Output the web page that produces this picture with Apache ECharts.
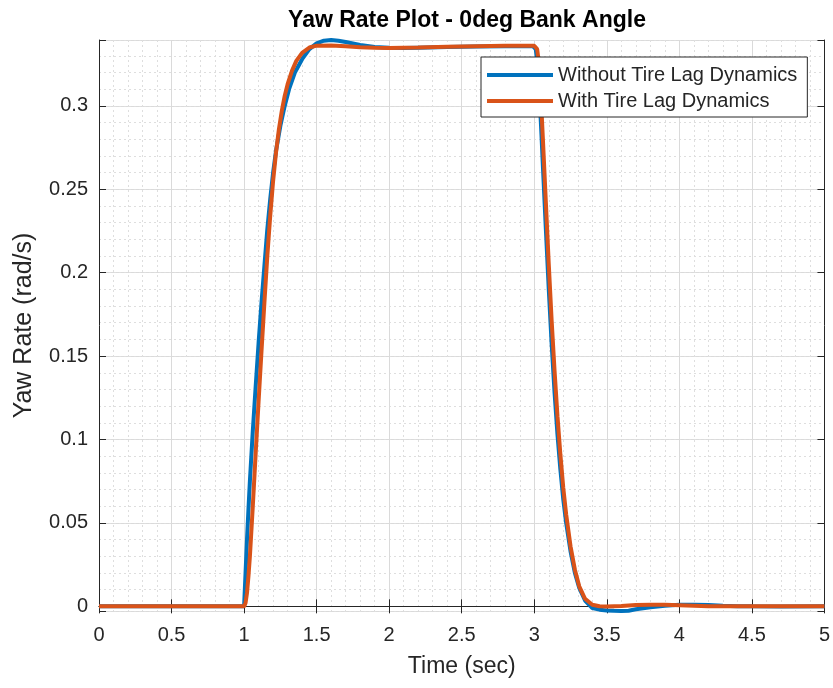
<!DOCTYPE html>
<html>
<head>
<meta charset="utf-8">
<script src="https://cdn.jsdelivr.net/npm/echarts@6/dist/echarts.min.js"></script>
<style>
  html, body { margin: 0; padding: 0; background: #fff; }
  #chart { width: 833px; height: 688px; }
</style>
</head>
<body>
<div id="chart"></div>
<script>
// [time (sec), yaw rate (rad/s)]
const withoutTireLag = [
  [0, 0], [1.0, 0], [1.01, 0.02], [1.02, 0.04], [1.03, 0.058], [1.04, 0.075],
  [1.06, 0.105], [1.08, 0.132], [1.10, 0.158], [1.12, 0.182], [1.14, 0.204],
  [1.16, 0.226], [1.18, 0.244], [1.20, 0.26], [1.22, 0.273], [1.25, 0.288],
  [1.28, 0.3], [1.31, 0.31], [1.35, 0.32], [1.40, 0.328], [1.45, 0.334],
  [1.50, 0.3375], [1.55, 0.3391], [1.60, 0.3395], [1.65, 0.3391], [1.70, 0.3383],
  [1.80, 0.3365], [1.90, 0.3353], [2.0, 0.3348], [2.1, 0.3347], [2.2, 0.3349],
  [2.4, 0.3353], [2.6, 0.3356], [2.8, 0.3358], [2.99, 0.3358], [3.0, 0.3356],
  [3.01, 0.334], [3.02, 0.328], [3.03, 0.316], [3.04, 0.3], [3.05, 0.282],
  [3.06, 0.263], [3.08, 0.226], [3.10, 0.19], [3.12, 0.157], [3.14, 0.128],
  [3.16, 0.103], [3.18, 0.082], [3.20, 0.064], [3.22, 0.05], [3.25, 0.033],
  [3.28, 0.02], [3.31, 0.011], [3.35, 0.0035], [3.40, -0.001], [3.45, -0.002],
  [3.50, -0.0025], [3.55, -0.0027], [3.60, -0.0028], [3.65, -0.0026],
  [3.70, -0.0018], [3.80, -0.0005], [3.90, 0.0004], [4.00, 0.0009], [4.10, 0.001],
  [4.20, 0.0008], [4.30, 0.0004], [4.40, 0.0001], [4.50, 0], [4.70, -0.0001], [5.0, 0]
];
const withTireLag = [
  [0, 0], [1.0, 0], [1.01, 0.002], [1.02, 0.008], [1.03, 0.018], [1.04, 0.03],
  [1.05, 0.045], [1.06, 0.06], [1.08, 0.092], [1.10, 0.123], [1.12, 0.153],
  [1.14, 0.182], [1.16, 0.21], [1.18, 0.234], [1.20, 0.255], [1.22, 0.272],
  [1.24, 0.286], [1.26, 0.297], [1.28, 0.306], [1.30, 0.313], [1.33, 0.321],
  [1.36, 0.327], [1.40, 0.3318], [1.45, 0.335], [1.50, 0.3361], [1.6, 0.3362],
  [1.7, 0.3358], [1.8, 0.3352], [1.9, 0.3348], [2.0, 0.3347], [2.2, 0.335],
  [2.4, 0.3355], [2.6, 0.3358], [2.8, 0.336], [3.0, 0.336], [3.01, 0.3358],
  [3.02, 0.334], [3.03, 0.327], [3.04, 0.314], [3.05, 0.297], [3.06, 0.279],
  [3.08, 0.242], [3.10, 0.205], [3.12, 0.171], [3.14, 0.141], [3.16, 0.114],
  [3.18, 0.091], [3.20, 0.071], [3.22, 0.055], [3.25, 0.036], [3.28, 0.022],
  [3.31, 0.012], [3.35, 0.0045], [3.40, 0.0009], [3.45, 0], [3.5, -0.0001],
  [3.6, 0.0002], [3.7, 0.0008], [3.8, 0.001], [3.9, 0.001], [4.0, 0.0007],
  [4.1, 0.0004], [4.2, 0.0001], [4.3, 0], [5, 0]
];
const seriesNames = ['Without Tire Lag Dynamics', 'With Tire Lag Dynamics'];
const xRange = [0, 5];
const yRange = [-0.0028, 0.3395];
const yMajorStep = 0.05;

const axisColor = '#262626';
const fontFamily = 'Liberation Sans, Arial, sans-serif';

const chart = echarts.init(document.getElementById('chart'));

// y ticks are counted from min, so hide the labels that are not on 0.05 multiples
function yLabel(v) {
  const k = v / yMajorStep;
  if (Math.abs(k - Math.round(k)) > 1e-6) return '';
  return String(Math.round(k * yMajorStep * 100) / 100);
}

const option = {
  backgroundColor: '#fff',
  animation: false,
  title: {
    text: 'Yaw Rate Plot - 0deg Bank Angle',
    left: 462,
    textAlign: 'center',
    top: 4,
    textStyle: { fontFamily: fontFamily, fontSize: 23, fontWeight: 'bold', color: '#000' }
  },
  legend: {
    orient: 'vertical',
    left: 481,
    top: 57,
    icon: 'rect',
    itemWidth: 66,
    itemHeight: 4,
    itemGap: 6,
    padding: [8, 10, 6, 6],
    borderColor: axisColor,
    borderWidth: 1,
    backgroundColor: '#fff',
    textStyle: { fontFamily: fontFamily, fontSize: 20, lineHeight: 20, color: axisColor },
    data: seriesNames
  },
  grid: { left: 99, right: 7, top: 40, bottom: 77 },
  xAxis: [
    {
      type: 'value',
      min: xRange[0],
      max: xRange[1],
      interval: 0.5,
      position: 'bottom',
      axisLine: { show: true, lineStyle: { color: axisColor, width: 1 } },
      axisTick: { show: true, inside: true, length: 7, lineStyle: { color: axisColor } },
      axisLabel: { margin: 14, fontFamily: fontFamily, fontSize: 20, color: axisColor },
      splitLine: { show: true, lineStyle: { color: '#dadada', width: 1 } },
      minorTick: { show: false, splitNumber: 5 },
      minorSplitLine: { show: true, lineStyle: { color: '#dedede', width: 1, type: [2, 3] } },
      name: 'Time (sec)',
      nameLocation: 'middle',
      nameGap: 44,
      nameTextStyle: { fontFamily: fontFamily, fontSize: 23, color: axisColor }
    },
    {
      type: 'value',
      min: xRange[0],
      max: xRange[1],
      interval: 0.5,
      position: 'top',
      axisLine: { show: true, lineStyle: { color: axisColor, width: 1 } },
      axisTick: { show: true, inside: true, length: 7, lineStyle: { color: axisColor } },
      axisLabel: { show: false },
      splitLine: { show: false }
    }
  ],
  yAxis: [
    {
      type: 'value',
      min: yRange[0],
      max: yRange[1],
      splitNumber: 7,
      position: 'left',
      axisLine: { show: true, lineStyle: { color: axisColor, width: 1 } },
      axisTick: { show: true, inside: true, length: 7, lineStyle: { color: axisColor } },
      axisLabel: { margin: 11, fontFamily: fontFamily, fontSize: 20, color: axisColor, formatter: yLabel },
      splitLine: { show: true, lineStyle: { color: '#dadada', width: 1 } },
      name: 'Yaw Rate (rad/s)',
      nameLocation: 'middle',
      nameGap: 62,
      nameTextStyle: { fontFamily: fontFamily, fontSize: 25, color: axisColor }
    },
    {
      // minor grid at 0.01
      type: 'value',
      min: yRange[0],
      max: yRange[1],
      splitNumber: 34,
      position: 'left',
      axisLine: { show: false },
      axisTick: { show: false },
      axisLabel: { show: false },
      splitLine: { show: true, lineStyle: { color: '#dedede', width: 1, type: [2, 3] } }
    },
    {
      type: 'value',
      min: yRange[0],
      max: yRange[1],
      splitNumber: 7,
      position: 'right',
      axisLine: { show: true, lineStyle: { color: axisColor, width: 1 } },
      axisTick: { show: true, inside: true, length: 7, lineStyle: { color: axisColor } },
      axisLabel: { show: false },
      splitLine: { show: false }
    }
  ],
  series: [
    {
      name: seriesNames[0],
      type: 'line',
      data: withoutTireLag,
      showSymbol: false,
      symbol: 'none',
      smooth: false,
      lineStyle: { color: '#0072BD', width: 4 },
      itemStyle: { color: '#0072BD' }
    },
    {
      name: seriesNames[1],
      type: 'line',
      data: withTireLag,
      showSymbol: false,
      symbol: 'none',
      smooth: false,
      lineStyle: { color: '#D95319', width: 4 },
      itemStyle: { color: '#D95319' }
    }
  ]
};

chart.setOption(option);
</script>
</body>
</html>
